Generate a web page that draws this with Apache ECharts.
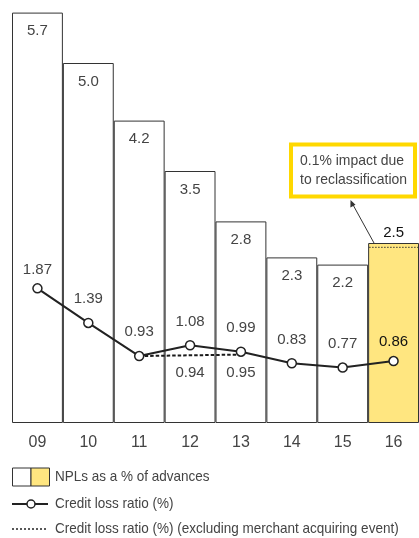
<!DOCTYPE html>
<html><head><meta charset="utf-8">
<script src="https://cdn.jsdelivr.net/npm/echarts@6/dist/echarts.min.js"></script>
<style>html,body{margin:0;padding:0;background:#fff}#c{width:419px;height:538px}</style>
</head><body><div id="c"></div>
<script>
var years = ['09','10','11','12','13','14','15','16'];
var npl = [5.7, 5.0, 4.2, 3.5, 2.8, 2.3, 2.2, 2.5];
var clr = [1.87, 1.39, 0.93, 1.08, 0.99, 0.83, 0.77, 0.86];
var clrExcl = [null, null, 0.93, 0.94, 0.95, null, null, null];
var reclassLevel = 2.44;

var FONT = '"Liberation Sans", Arial, sans-serif';
var TXT = '#444';
var chart = echarts.init(document.getElementById('c'));

var barData = npl.map(function (v, i) {
  var last = i === npl.length - 1;
  return {
    value: v,
    itemStyle: { color: last ? '#FFE680' : '#fff', borderColor: '#333', borderWidth: 1 },
    label: last ? { position: 'top', distance: 3, color: '#111' } : {}
  };
});
var lineData = clr.map(function (v, i) {
  var close = (i === 0 || i === clr.length - 1);
  return {
    value: v,
    label: close ? { distance: 6, color: i === clr.length - 1 ? '#111' : TXT } : {}
  };
});
var exclData = clrExcl.map(function (v, i) {
  return { value: v, label: { show: (i === 3 || i === 4) } };
});

chart.setOption({
  animation: false,
  textStyle: { fontFamily: FONT },
  grid: { left: 12, right: 0, top: 5.4, bottom: 115 },
  xAxis: {
    type: 'category', data: years,
    axisLine: { show: false }, axisTick: { show: false },
    axisLabel: { color: TXT, fontSize: 16, margin: 12, fontFamily: FONT }
  },
  yAxis: { type: 'value', min: 0, max: 5.8, show: false, splitLine: { show: false } },
  series: [
    {
      type: 'bar', data: barData, barWidth: '100%', barGap: '-100%',
      label: { show: true, position: 'insideTop', distance: 11, color: TXT, fontSize: 15, fontFamily: FONT,
        formatter: function (p) { return p.value.toFixed(1); } },
      z: 1
    },
    {
      type: 'custom', data: [[years[7], reclassLevel]], z: 3,
      renderItem: function (params, api) {
        var pt = api.coord([api.value(0), api.value(1)]);
        var w = api.size([1, 0])[0];
        return {
          type: 'line',
          shape: { x1: pt[0] - w / 2 + 1, y1: pt[1], x2: pt[0] + w / 2, y2: pt[1] },
          style: { stroke: '#333', lineWidth: 1, lineDash: [1.5, 1.5] }
        };
      }
    },
    {
      type: 'line', data: exclData, symbol: 'circle', symbolSize: 1, showSymbol: true, z: 4,
      itemStyle: { color: 'rgba(0,0,0,0)', borderWidth: 0 },
      lineStyle: { color: '#1a1a1a', width: 2, type: [3.5, 2] },
      label: { show: false, position: 'bottom', distance: 10, color: TXT, fontSize: 15, fontFamily: FONT },
      connectNulls: false
    },
    {
      type: 'line', data: lineData, z: 5,
      symbol: 'circle', symbolSize: 9,
      itemStyle: { color: '#fff', borderColor: '#222', borderWidth: 1.5 },
      lineStyle: { color: '#222', width: 2 },
      label: { show: true, position: 'top', distance: 11, color: TXT, fontSize: 15, fontFamily: FONT,
        formatter: function (p) { return p.value.toFixed(2); } }
    }
  ],
  graphic: [
    { type: 'rect', shape: { x: 291, y: 144.5, width: 124, height: 52 },
      style: { fill: '#fff', stroke: '#FFD800', lineWidth: 4 }, z: 10 },
    { type: 'text', x: 300, y: 161, z: 11, scaleX: 0.93,
      style: { text: '0.1% impact due', font: '15px ' + FONT, fill: TXT, verticalAlign: 'middle' } },
    { type: 'text', x: 300, y: 180, z: 11, scaleX: 0.93,
      style: { text: 'to reclassification', font: '15px ' + FONT, fill: TXT, verticalAlign: 'middle' } },
    { type: 'line', shape: { x1: 374, y1: 243, x2: 352, y2: 203 },
      style: { stroke: '#333', lineWidth: 1 }, z: 10 },
    { type: 'polygon', shape: { points: [[350.5, 200], [350.4, 207.5], [355.5, 204.7]] },
      style: { fill: '#333' }, z: 10 },
    // legend
    { type: 'rect', shape: { x: 12.5, y: 468, width: 18.5, height: 18 },
      style: { fill: '#fff', stroke: '#333', lineWidth: 1 } },
    { type: 'rect', shape: { x: 31, y: 468, width: 18.5, height: 18 },
      style: { fill: '#FFE680', stroke: '#333', lineWidth: 1 } },
    { type: 'text', x: 55, y: 477, scaleX: 0.9,
      style: { text: 'NPLs as a % of advances', font: '15px ' + FONT, fill: TXT, verticalAlign: 'middle' } },
    { type: 'line', shape: { x1: 12, y1: 504, x2: 48, y2: 504 },
      style: { stroke: '#222', lineWidth: 2 } },
    { type: 'circle', shape: { cx: 31, cy: 504, r: 4 },
      style: { fill: '#fff', stroke: '#222', lineWidth: 1.5 } },
    { type: 'text', x: 55, y: 504, scaleX: 0.9,
      style: { text: 'Credit loss ratio (%)', font: '15px ' + FONT, fill: TXT, verticalAlign: 'middle' } },
    { type: 'line', shape: { x1: 12, y1: 529, x2: 48, y2: 529 },
      style: { stroke: '#222', lineWidth: 1.5, lineDash: [2, 2] } },
    { type: 'text', x: 55, y: 529, scaleX: 0.9,
      style: { text: 'Credit loss ratio (%) (excluding merchant acquiring event)', font: '15px ' + FONT, fill: TXT, verticalAlign: 'middle' } }
  ]
});
</script></body></html>
